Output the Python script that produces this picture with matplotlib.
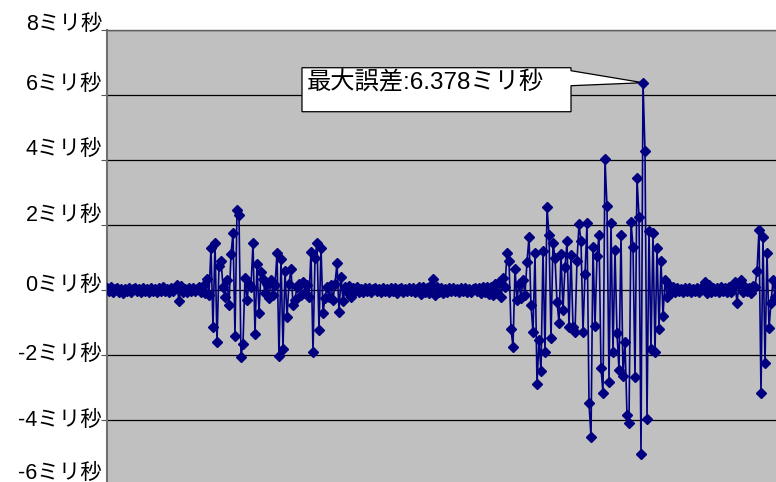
import numpy as np
import matplotlib.pyplot as plt
from matplotlib.patches import Polygon
from matplotlib.transforms import IdentityTransform, ScaledTranslation

plt.rcParams['font.family'] = ['Liberation Sans', 'Noto Sans CJK JP']

# 時刻誤差 (ミリ秒), サンプル順
err_ms = [
    0.05, -0.03, 0.08, -0.06, 0.02, 0.07, -0.05, 0.03, -0.08, 0.04,
    -0.02, 0.06, -0.07, 0.03, 0.05, -0.04, 0.02, -0.06, 0.07, -0.03,
    0.04, -0.05, 0.06, -0.02, 0.03, -0.07, 0.05, -0.04, 0.08, -0.02,
    0.03, -0.06, 0.05, -0.03, 0.07, 0.15, -0.35, 0.12, -0.05, 0.04,
    -0.07, 0.05, -0.03, 0.06, -0.04, 0.02, 0.08, -0.06, 0.12, -0.1,
    0.35, -0.15, 1.3, -1.15, 1.45, -1.6, 0.75, 0.9, 0.1, -0.2,
    0.3, -0.45, 1.1, 1.75, -1.4, 2.45, 2.3, -2.05, -1.65, 0.37,
    -0.3, 0.2, 0.1, 1.45, -1.35, 0.8, -0.7, 0.55, 0.33, -0.1,
    0.2, -0.25, 0.3, -0.15, 0.15, 1.13, -2.03, 0.95, -1.8, 0.6,
    -0.83, 0.2, 0.65, -0.45, -0.3, 0.1, 0.2, -0.15, 0.25, -0.1,
    0.15, -0.2, 1.17, -1.9, 0.98, 1.45, -1.23, 1.3, -0.7, -0.25,
    0.1, -0.2, 0.15, -0.3, 0.2, 0.83, -0.68, 0.4, -0.35, 0.1,
    -0.05, 0.12, -0.2, 0.06, -0.04, 0.08, -0.06, 0.03, -0.07, 0.05,
    -0.03, 0.06, -0.05, 0.02, 0.07, -0.04, 0.03, -0.06, 0.05, -0.02,
    0.04, -0.07, 0.06, -0.03, 0.05, -0.08, 0.03, 0.07, -0.05, 0.02,
    -0.04, 0.06, -0.02, 0.05, -0.07, 0.04, 0.1, -0.12, 0.08, -0.05,
    0.06, -0.1, 0.15, 0.35, -0.15, 0.1, -0.06, 0.05, -0.08, 0.04,
    -0.05, 0.07, -0.03, 0.06, -0.04, 0.02, -0.06, 0.05, -0.03, 0.07,
    -0.05, 0.04, -0.07, 0.03, 0.06, -0.04, 0.05, -0.08, 0.1, -0.06,
    0.08, -0.12, 0.1, -0.15, 0.2, -0.1, 0.25, -0.2, 0.37, 0.1,
    1.14, 0.9, -1.2, -1.75, 0.64, -0.3, 0.2, -0.25, 0.3, -0.15,
    0.87, 1.63, -0.46, -1.3, 1.13, -2.9, -1.54, -2.5, 1.2, -1.9,
    2.55, 1.7, -1.48, 1.45, 1.0, -0.37, -1.0, 1.1, -0.6, 0.7,
    1.5, -1.15, 1.08, -1.13, -1.3, 0.9, 2.03, 1.5, -1.28, 0.5,
    2.06, -3.48, -4.52, 1.33, -1.1, 1.05, 1.7, -2.4, -3.17, 4.03,
    2.58, -2.82, 2.06, -1.9, 1.23, -1.33, -2.46, 1.7, -2.65, -1.6,
    -3.85, -4.1, 2.1, 1.33, -2.68, 3.45, 2.25, -5.05, 6.378, 4.28,
    -3.97, 1.82, -1.8, 1.75, -1.9, 1.3, -1.2, 0.9, -0.8, 0.3,
    -0.2, 0.15, -0.1, 0.08, -0.05, 0.06, -0.04, 0.03, -0.07, 0.05,
    -0.03, 0.06, -0.05, 0.04, -0.02, 0.07, -0.06, 0.04, 0.12, 0.25,
    -0.1, 0.15, -0.05, 0.06, -0.03, 0.05, -0.07, 0.1, -0.04, 0.06,
    -0.05, 0.08, -0.06, 0.1, 0.25, -0.4, 0.2, 0.3, -0.05, 0.08,
    -0.04, 0.06, -0.1, 0.12, 0.1, 0.58, 1.85, -3.17, 1.63, -2.25,
    1.13, -1.17, -0.4, 0.3, -0.2, 0.15, -0.1, 0.1,
]
y_ticks = [-6, -4, -2, 0, 2, 4, 6, 8]
y_labels = [f'{v}ミリ秒' for v in y_ticks]
callout_text = '最大誤差:6.378ミリ秒'

# ラベルのずれ (px, 上向き) - 元の図に合わせる
label_lift = [12, 0, 1, 5, 10, 11, 11, 6]

fig = plt.figure(figsize=(7.76, 4.82), dpi=100)
W, H = 776, 482
ax = fig.add_axes([107 / W, (H - 485) / H, 700 / W, 455 / H])
ax.set_facecolor('#c0c0c0')

x = np.arange(len(err_ms))
ax.plot(x, err_ms, color='#000080', lw=1.2, marker='D', ms=4.8,
        mec='#000080', mfc='#000080', zorder=3)

ax.set_xlim(0, 350)
ax.set_ylim(-6, 8)
ax.set_yticks(y_ticks)
ax.yaxis.grid(True, color='black', lw=0.9)
ax.set_axisbelow(True)
ax.set_xticks([])
ax.tick_params(axis='y', length=4, color='#555555', labelleft=False)
for s in ['right', 'bottom']:
    ax.spines[s].set_visible(False)
ax.spines['left'].set_color('#707070')
ax.spines['left'].set_linewidth(1.5)
ax.spines['top'].set_color('#606060')
ax.spines['top'].set_linewidth(1.0)

for v, lbl, d in zip(y_ticks, y_labels, label_lift):
    tr = ax.get_yaxis_transform() + ScaledTranslation(-5 / fig.dpi, d / fig.dpi, fig.dpi_scale_trans)
    ax.text(0, v, lbl, transform=tr, ha='right', va='center', fontsize=15.5,
            clip_on=False)

# 吹き出し
i_max = int(np.argmax(err_ms))
xp, yp = ax.transData.transform((x[i_max], err_ms[i_max]))
L, R, T, B = xp - 341, xp - 72, yp + 15, yp - 29
shape = [(L, T), (R, T), (R, yp + 12), (xp, yp), (R, yp - 3), (R, B), (L, B)]
ax.add_patch(Polygon(shape, closed=True, fc='white', ec='black', lw=0.9,
                     transform=IdentityTransform(), zorder=2.5, clip_on=False))
ax.text(L + 5, yp, callout_text, transform=IdentityTransform(), fontsize=17.5,
        ha='left', va='center', zorder=4)
ax.set_xlim(0, 350)
ax.set_ylim(-6, 8)

fig.savefig('out.png', dpi=100)
